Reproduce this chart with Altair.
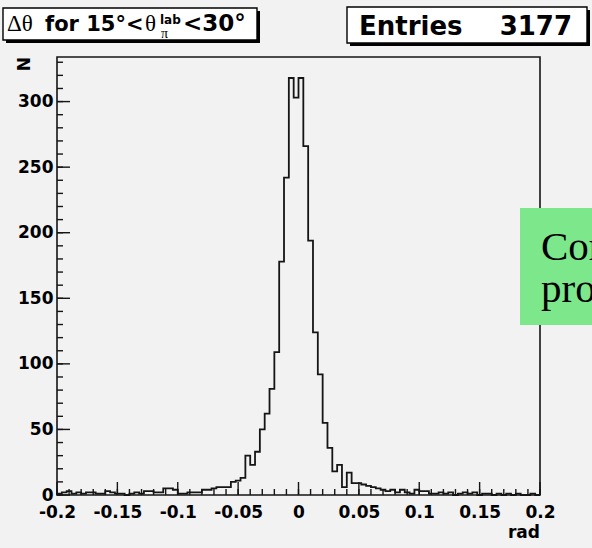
import altair as alt
import numpy as np
import pandas as pd

# Histogram of the polar-angle residual, 100 bins on [-0.2, 0.2] rad
x_low, x_high, n_bins = -0.2, 0.2, 100
counts = [
    # -0.200 .. -0.056
    1, 2, 3, 1, 2, 1, 2, 2, 1, 1,
    3, 2, 1, 1, 0, 1, 2, 1, 3, 3,
    2, 2, 5, 5, 4, 1, 1, 2, 2, 2,
    4, 4, 5, 6, 6, 6, 10,
    # -0.052 .. 0.048 (core)
    11, 13, 30, 23, 33, 50, 62, 81, 109, 178,
    242, 318, 303, 318, 266, 194, 124, 92, 55, 36,
    18, 23, 6, 17, 9,
    # 0.048 .. 0.2
    9, 8, 7, 6, 5, 4, 3, 4, 2, 4,
    2, 1, 4, 3, 3, 1, 1, 2, 1, 2,
    0, 1, 2, 1, 2, 0, 1, 1, 0, 1,
    0, 1, 0, 1, 0, 0, 1, 0,
]
entries = 3177
y_max = 334

x_label_values = [-0.2, -0.15, -0.1, -0.05, 0, 0.05, 0.1, 0.15, 0.2]
x_minor_values = [round(-0.2 + 0.01 * i, 2) for i in range(41)]
y_label_values = [0, 50, 100, 150, 200, 250, 300]
y_minor_values = list(range(0, 331, 10))

W, H = 483, 438  # frame size in pixels

edges = np.linspace(x_low, x_high, n_bins + 1)
hist = pd.DataFrame({"x": edges, "n": counts + [counts[-1]]})

xs = alt.Scale(domain=[x_low, x_high], nice=False, zero=False)
ys = alt.Scale(domain=[0, y_max], nice=False, zero=False)

lab_font = dict(labelFont="DejaVu Sans", labelFontWeight="bold",
                labelFontSize=17, labelColor="black")
x_axis = alt.Axis(values=x_label_values, labelExpr="'' + datum.value",
                  ticks=False, tickSize=0, domain=False, grid=False,
                  labelPadding=9, labelFlush=False, labelOverlap=False,
                  labelBound=False, title=None, **lab_font)
y_axis = alt.Axis(values=y_label_values, ticks=False, tickSize=0,
                  domain=False, grid=False, labelPadding=4,
                  labelOverlap=False, labelBound=False, title=None, **lab_font)

one = pd.DataFrame({"k": [0]})
ink = "#151515"

line = alt.Chart(hist).mark_line(interpolate="step-after", color=ink,
                                 strokeWidth=1.8).encode(
    x=alt.X("x:Q", scale=xs, axis=x_axis),
    y=alt.Y("n:Q", scale=ys, axis=y_axis),
)


def x_ticks(vals, length):
    d = pd.DataFrame({"x": vals})
    return alt.Chart(d).mark_rule(color=ink, strokeWidth=1.4).encode(
        x=alt.X("x:Q", scale=xs, axis=x_axis),
        y=alt.value(H), y2=alt.value(H - length))


def y_ticks(vals, length):
    d = pd.DataFrame({"n": vals})
    return alt.Chart(d).mark_rule(color=ink, strokeWidth=1.4).encode(
        y=alt.Y("n:Q", scale=ys, axis=y_axis),
        x=alt.value(0), x2=alt.value(length))


def box(x0, y0, x1, y1, fill, stroke=None, sw=0):
    kw = dict(fill=fill)
    if stroke:
        kw.update(stroke=stroke, strokeWidth=sw)
    return alt.Chart(one).mark_rect(**kw).encode(
        x=alt.value(x0), x2=alt.value(x1), y=alt.value(y0), y2=alt.value(y1))


def label(text, x, y, size, font="DejaVu Sans", weight="bold",
          align="left", angle=0, color="black"):
    return alt.Chart(one).mark_text(
        text=text, font=font, fontSize=size, fontWeight=weight,
        align=align, baseline="alphabetic", angle=angle, color=color,
    ).encode(x=alt.value(x), y=alt.value(y))


frame = alt.Chart(one).mark_rect(fill="transparent", stroke=ink,
                                 strokeWidth=1.6).encode(
    x=alt.value(0), x2=alt.value(W), y=alt.value(0), y2=alt.value(H))

# statistics-style title box with drop shadow
title_layers = [
    box(-51, -46, 203, -14, "black"),
    box(-54, -49, 200, -17, "white", "black", 1.4),
    label("Δθ", -50, -26, 23, font="Liberation Serif", weight="normal"),
    label("for 15°<", -12, -26, 21),
    label("θ", 88, -26, 23, font="Liberation Serif", weight="normal"),
    label("lab", 103, -33, 12),
    label("π", 104, -19, 14, font="Liberation Serif", weight="normal"),
    label("<30°", 126, -26, 23),
]
entries_layers = [
    box(293, -47, 533, -11, "black"),
    box(290, -50, 530, -14, "white", "black", 1.4),
    label("Entries", 302, -22, 26),
    label(str(entries), 515, -22, 26, align="right"),
]
note_layers = [
    box(463, 151, 560, 268, "#7ce88b"),
    label("Cor", 484, 203, 41, font="Liberation Serif", weight="normal"),
    label("pro", 484, 245, 41, font="Liberation Serif", weight="normal"),
]
axis_titles = [
    label("N", -27, 0, 17, align="right", angle=270),
    label("rad", W, 481, 17, align="right"),
]

chart = alt.layer(
    line,
    x_ticks(x_minor_values, 6), x_ticks(x_label_values, 13),
    y_ticks(y_minor_values, 6), y_ticks(y_label_values, 13),
    frame,
    *title_layers, *entries_layers, *axis_titles, *note_layers,
).properties(
    width=W, height=H,
    autosize=alt.AutoSizeParams(type="none"),
    padding={"left": 57, "top": 57, "right": 52, "bottom": 53},
    background="#f2f2f2",
).configure_view(strokeWidth=0)

chart.save("out.html", embed_options={"renderer": "svg", "actions": False})
